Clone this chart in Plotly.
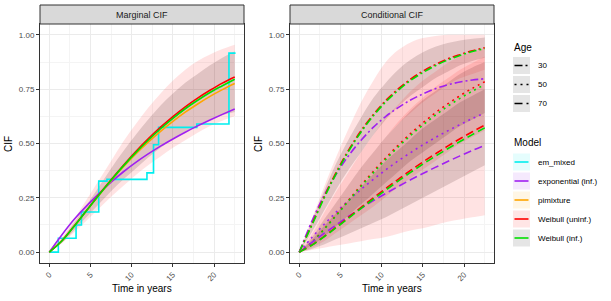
import plotly.graph_objects as go

W, H = 611, 301

# ---------------- data ----------------
T = [0, 1.5, 3, 4.5, 6, 7.5, 9, 10.5, 12, 13.5, 15, 16.5, 18, 19.5, 21, 22.5]

# Marginal CIF
m_weib_uninf = [0, 0.051, 0.119, 0.191, 0.263, 0.333, 0.400, 0.463, 0.521, 0.575, 0.624, 0.669, 0.709, 0.745, 0.778, 0.806]
m_weib_inf = [0, 0.050, 0.118, 0.190, 0.262, 0.331, 0.397, 0.458, 0.515, 0.568, 0.616, 0.660, 0.699, 0.735, 0.766, 0.796]
m_pimix = [0, 0.051, 0.119, 0.190, 0.261, 0.329, 0.393, 0.452, 0.506, 0.556, 0.602, 0.644, 0.682, 0.717, 0.748, 0.776]
m_expo = [0, 0.078, 0.150, 0.212, 0.268, 0.322, 0.370, 0.413, 0.452, 0.488, 0.521, 0.552, 0.581, 0.608, 0.634, 0.659]
m_uninf_lo = [0, 0.040, 0.090, 0.145, 0.200, 0.255, 0.305, 0.355, 0.400, 0.440, 0.480, 0.515, 0.550, 0.580, 0.605, 0.625]
m_uninf_hi = [0, 0.065, 0.150, 0.240, 0.330, 0.420, 0.510, 0.590, 0.665, 0.730, 0.790, 0.840, 0.880, 0.910, 0.935, 0.955]
m_inf_lo = [0, 0.042, 0.100, 0.160, 0.220, 0.280, 0.335, 0.385, 0.435, 0.480, 0.520, 0.555, 0.585, 0.610, 0.630, 0.645]
m_inf_hi = [0, 0.060, 0.135, 0.215, 0.300, 0.385, 0.465, 0.540, 0.610, 0.675, 0.730, 0.780, 0.820, 0.860, 0.895, 0.925]

# em_mixed step function
em_t = [0, 1.1, 3.25, 3.9, 6.0, 7.0, 11.85, 12.65, 13.26, 17.9, 21.8, 22.6]
em_v = [0, 0.064, 0.125, 0.185, 0.327, 0.335, 0.365, 0.494, 0.574, 0.590, 0.916, 0.916]

# Conditional CIF, by age
c30_uninf = [0, 0.125, 0.253, 0.369, 0.471, 0.559, 0.634, 0.698, 0.751, 0.796, 0.833, 0.863, 0.889, 0.909, 0.927, 0.941]
c30_inf = [0, 0.122, 0.248, 0.363, 0.465, 0.553, 0.628, 0.692, 0.745, 0.790, 0.827, 0.858, 0.884, 0.905, 0.923, 0.937]
c30_expo = [0, 0.140, 0.260, 0.360, 0.445, 0.515, 0.575, 0.625, 0.665, 0.700, 0.728, 0.752, 0.770, 0.783, 0.792, 0.798]
c50_uninf = [0, 0.044, 0.106, 0.172, 0.240, 0.308, 0.372, 0.434, 0.492, 0.546, 0.595, 0.641, 0.682, 0.720, 0.754, 0.784]
c50_inf = [0, 0.043, 0.104, 0.169, 0.236, 0.303, 0.366, 0.427, 0.484, 0.537, 0.585, 0.630, 0.671, 0.708, 0.741, 0.771]
c50_expo = [0, 0.066, 0.127, 0.185, 0.239, 0.289, 0.335, 0.379, 0.420, 0.458, 0.494, 0.527, 0.558, 0.587, 0.615, 0.640]
c70_uninf = [0, 0.032, 0.072, 0.116, 0.161, 0.206, 0.250, 0.293, 0.335, 0.376, 0.415, 0.452, 0.488, 0.522, 0.554, 0.585]
c70_inf = [0, 0.031, 0.070, 0.113, 0.157, 0.201, 0.244, 0.286, 0.327, 0.367, 0.405, 0.441, 0.476, 0.509, 0.541, 0.572]
c70_expo = [0, 0.044, 0.086, 0.126, 0.165, 0.202, 0.237, 0.270, 0.302, 0.333, 0.362, 0.390, 0.417, 0.443, 0.468, 0.491]

r30_lo = [0, 0.07, 0.15, 0.23, 0.31, 0.39, 0.46, 0.53, 0.59, 0.64, 0.69, 0.73, 0.77, 0.80, 0.82, 0.84]
r30_hi = [0, 0.15, 0.30, 0.44, 0.57, 0.69, 0.79, 0.875, 0.93, 0.965, 0.985, 0.995, 1.0, 1.0, 1.0, 1.0]
g30_lo = [0, 0.09, 0.19, 0.29, 0.38, 0.46, 0.54, 0.61, 0.67, 0.72, 0.76, 0.80, 0.83, 0.86, 0.88, 0.895]
g30_hi = [0, 0.14, 0.28, 0.41, 0.52, 0.62, 0.71, 0.78, 0.84, 0.885, 0.92, 0.945, 0.962, 0.974, 0.982, 0.988]
r50_lo = [0, 0.02, 0.05, 0.09, 0.13, 0.17, 0.21, 0.255, 0.30, 0.34, 0.38, 0.42, 0.46, 0.50, 0.53, 0.56]
r50_hi = [0, 0.08, 0.18, 0.28, 0.37, 0.46, 0.54, 0.62, 0.68, 0.74, 0.79, 0.83, 0.87, 0.90, 0.92, 0.94]
g50_lo = [0, 0.03, 0.07, 0.12, 0.17, 0.22, 0.27, 0.32, 0.37, 0.42, 0.46, 0.50, 0.54, 0.58, 0.61, 0.64]
g50_hi = [0, 0.065, 0.15, 0.23, 0.31, 0.39, 0.46, 0.53, 0.59, 0.65, 0.70, 0.74, 0.78, 0.82, 0.85, 0.875]
r70_lo = [0, 0.01, 0.02, 0.03, 0.04, 0.05, 0.06, 0.07, 0.085, 0.10, 0.11, 0.125, 0.14, 0.15, 0.16, 0.17]
r70_hi = [0, 0.07, 0.15, 0.23, 0.31, 0.39, 0.46, 0.53, 0.60, 0.66, 0.71, 0.76, 0.80, 0.84, 0.87, 0.90]
g70_lo = [0, 0.015, 0.035, 0.06, 0.085, 0.11, 0.135, 0.16, 0.19, 0.22, 0.25, 0.28, 0.31, 0.34, 0.37, 0.40]
g70_hi = [0, 0.055, 0.12, 0.18, 0.24, 0.30, 0.36, 0.42, 0.47, 0.52, 0.57, 0.61, 0.65, 0.69, 0.72, 0.75]

x_ticks = [0, 5, 10, 15, 20]
y_ticks = [0, 0.25, 0.5, 0.75, 1.0]
y_tick_labels = ["0.00", "0.25", "0.50", "0.75", "1.00"]
panel_titles = ["Marginal CIF", "Conditional CIF"]
age_labels = ["30", "50", "70"]
model_labels = ["em_mixed", "exponential (inf.)", "pimixture", "Weibull (uninf.)", "Weibull (inf.)"]

# ---------------- styles ----------------
COL = {"em_mixed": "#00EEEE", "expo": "#A020F0", "pimix": "#FFA500", "uninf": "#FF0000", "inf": "#00E000"}
RIB_RED = "rgba(255,0,0,0.11)"
RIB_GRAY = "rgba(40,0,0,0.14)"
DASH = {"30": "8px,3px,2px,3px", "50": "2px,4px", "70": "8px,4px"}
LW = 1.6
FONT = "Liberation Sans, Arial, sans-serif"

fig = go.Figure()


def ribbon(x, lo, hi, color, xa, ya):
    fig.add_trace(go.Scatter(x=x, y=hi, mode="lines", line=dict(width=0, shape="spline"),
                             xaxis=xa, yaxis=ya, showlegend=False, hoverinfo="skip"))
    fig.add_trace(go.Scatter(x=x, y=lo, mode="lines", line=dict(width=0, shape="spline"),
                             fill="tonexty", fillcolor=color,
                             xaxis=xa, yaxis=ya, showlegend=False, hoverinfo="skip"))


def curve(x, y, color, xa, ya, dash="solid", shape="spline"):
    fig.add_trace(go.Scatter(x=x, y=y, mode="lines", line=dict(color=color, width=LW, dash=dash, shape=shape),
                             xaxis=xa, yaxis=ya, showlegend=False, hoverinfo="skip"))


# left panel
ribbon(T, m_uninf_lo, m_uninf_hi, RIB_RED, "x", "y")
ribbon(T, m_inf_lo, m_inf_hi, RIB_GRAY, "x", "y")
curve(em_t, em_v, COL["em_mixed"], "x", "y", shape="hv")
curve(T, m_expo, COL["expo"], "x", "y")
curve(T, m_pimix, COL["pimix"], "x", "y")
curve(T, m_weib_uninf, COL["uninf"], "x", "y")
curve(T, m_weib_inf, COL["inf"], "x", "y")

# right panel
for lo, hi, col in [(r30_lo, r30_hi, RIB_RED), (g30_lo, g30_hi, RIB_GRAY),
                    (r50_lo, r50_hi, RIB_RED), (g50_lo, g50_hi, RIB_GRAY),
                    (r70_lo, r70_hi, RIB_RED), (g70_lo, g70_hi, RIB_GRAY)]:
    ribbon(T, lo, hi, col, "x2", "y2")
for age, ex, un, inf in [("30", c30_expo, c30_uninf, c30_inf),
                         ("50", c50_expo, c50_uninf, c50_inf),
                         ("70", c70_expo, c70_uninf, c70_inf)]:
    curve(T, ex, COL["expo"], "x2", "y2", dash=DASH[age])
    curve(T, un, COL["uninf"], "x2", "y2", dash=DASH[age])
    curve(T, inf, COL["inf"], "x2", "y2", dash=DASH[age])


# ---------------- layout ----------------
def pxx(x):
    return x / W


def pyy(y):
    return 1 - y / H


ydom = [pyy(263), pyy(24)]
axis_common = dict(showline=True, linecolor="#333333", linewidth=1, mirror=True,
                   gridcolor="#EBEBEB", gridwidth=1, zeroline=False,
                   ticks="outside", ticklen=3, tickcolor="#333333", tickwidth=1,
                   tickfont=dict(family=FONT, size=8, color="#4D4D4D"))
xcommon = dict(axis_common, range=[-1.125, 23.625], tickvals=x_ticks, ticktext=[str(v) for v in x_ticks],
               tickangle=-45)
xcommon["minor"] = dict(showgrid=True, gridcolor="#F4F4F4", gridwidth=0.6, tickvals=[2.5, 7.5, 12.5, 17.5, 22.5])
ycommon = dict(axis_common, range=[-0.05, 1.05], tickvals=y_ticks, ticktext=y_tick_labels)
ycommon["minor"] = dict(showgrid=True, gridcolor="#F4F4F4", gridwidth=0.6, tickvals=[0.125, 0.375, 0.625, 0.875])

fig.update_layout(
    width=W, height=H, margin=dict(l=0, r=0, t=0, b=0),
    paper_bgcolor="white", plot_bgcolor="white", showlegend=False,
    xaxis=dict(xcommon, domain=[pxx(40), pxx(244)], anchor="y"),
    yaxis=dict(ycommon, domain=ydom, anchor="x"),
    xaxis2=dict(xcommon, domain=[pxx(290), pxx(494)], anchor="y2"),
    yaxis2=dict(ycommon, domain=ydom, anchor="x2"),
    font=dict(family=FONT),
)

shapes = []
annotations = []

# strips
for (x0, x1), title in zip([(40, 244), (290, 494)], panel_titles):
    shapes.append(dict(type="rect", xref="paper", yref="paper", x0=pxx(x0), x1=pxx(x1), y0=pyy(24), y1=pyy(5),
                       fillcolor="#D9D9D9", line=dict(color="#333333", width=1)))
    annotations.append(dict(text=title, xref="paper", yref="paper", x=pxx((x0 + x1) / 2), y=pyy(14.5),
                            showarrow=False, font=dict(family=FONT, size=9, color="#1A1A1A"),
                            xanchor="center", yanchor="middle"))
    annotations.append(dict(text="Time in years", xref="paper", yref="paper", x=pxx((x0 + x1) / 2), y=pyy(288),
                            showarrow=False, font=dict(family=FONT, size=10, color="black"),
                            xanchor="center", yanchor="middle"))
for xc in [8, 258]:
    annotations.append(dict(text="CIF", xref="paper", yref="paper", x=pxx(xc), y=pyy(144),
                            showarrow=False, textangle=-90, font=dict(family=FONT, size=10, color="black"),
                            xanchor="center", yanchor="middle"))

# legend: Age
annotations.append(dict(text="Age", xref="paper", yref="paper", x=pxx(512), y=pyy(47), showarrow=False,
                        xanchor="left", yanchor="middle", font=dict(family=FONT, size=10, color="black")))
for i, lab in enumerate(age_labels):
    yc = 65.5 + 19 * i
    shapes.append(dict(type="rect", xref="paper", yref="paper", x0=pxx(513), x1=pxx(530),
                       y0=pyy(yc + 8.5), y1=pyy(yc - 8.5), fillcolor="#E5E5E5", line=dict(width=0)))
    shapes.append(dict(type="line", xref="paper", yref="paper", x0=pxx(514.5), x1=pxx(528.5),
                       y0=pyy(yc), y1=pyy(yc), line=dict(color="black", width=1.6, dash=DASH[lab])))
    annotations.append(dict(text=lab, xref="paper", yref="paper", x=pxx(536), y=pyy(yc), showarrow=False,
                            xanchor="left", yanchor="middle", font=dict(family=FONT, size=8, color="black")))

# legend: Model
annotations.append(dict(text="Model", xref="paper", yref="paper", x=pxx(512), y=pyy(142), showarrow=False,
                        xanchor="left", yanchor="middle", font=dict(family=FONT, size=10, color="black")))
key_fill = ["#E5FDFD", "#F5E9FD", "#FFF6E5", "#FFE5E5", "#E5E5E5"]
key_line = [COL["em_mixed"], COL["expo"], COL["pimix"], COL["uninf"], COL["inf"]]
for i, lab in enumerate(model_labels):
    yc = 162 + 19 * i
    shapes.append(dict(type="rect", xref="paper", yref="paper", x0=pxx(513), x1=pxx(530),
                       y0=pyy(yc + 8.5), y1=pyy(yc - 8.5), fillcolor=key_fill[i], line=dict(width=0)))
    shapes.append(dict(type="line", xref="paper", yref="paper", x0=pxx(514.5), x1=pxx(528.5),
                       y0=pyy(yc), y1=pyy(yc), line=dict(color=key_line[i], width=1.6)))
    annotations.append(dict(text=lab, xref="paper", yref="paper", x=pxx(536), y=pyy(yc), showarrow=False,
                            xanchor="left", yanchor="middle", font=dict(family=FONT, size=8, color="black")))

fig.update_layout(shapes=shapes, annotations=annotations)
fig.write_html("out.html", config={"displayModeBar": False},
               post_script="document.body.style.margin='0px';document.body.style.overflow='hidden';")
